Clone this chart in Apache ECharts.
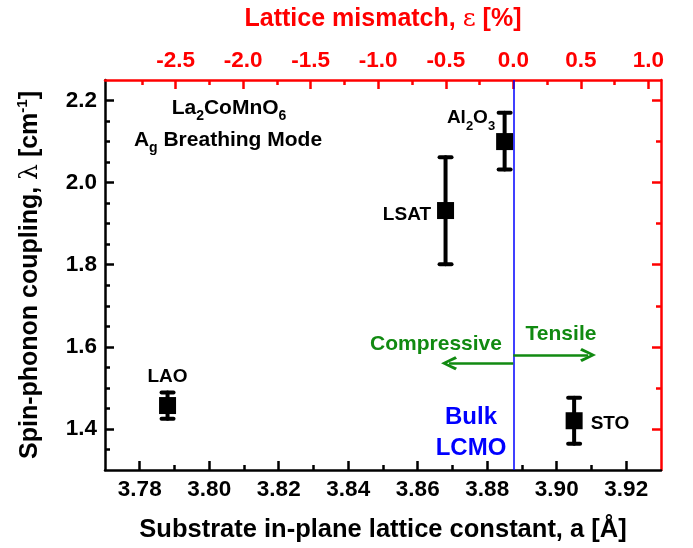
<!DOCTYPE html>
<html><head><meta charset="utf-8">
<script src="https://cdn.jsdelivr.net/npm/echarts@6/dist/echarts.min.js"></script>
<style>html,body{margin:0;padding:0;background:#fff}#c{width:693px;height:548px}</style>
</head><body><div id="c"></div>
<script>
// ---- data ----
const substrates = ['LAO', 'LSAT', 'Al2O3', 'STO'];
const latticeA   = [3.788, 3.868, 3.885, 3.905];
const lambdaVal  = [1.457, 1.932, 2.100, 1.420];
const lambdaLow  = [1.425, 1.801, 2.032, 1.364];
const lambdaHigh = [1.489, 2.062, 2.170, 1.476];
const A_BULK = 3.8875;            // bulk LCMO lattice constant
const X_RANGE = [3.77, 3.93];
const Y_RANGE = [1.3, 2.25];
const X_MAJOR = [3.78, 3.80, 3.82, 3.84, 3.86, 3.88, 3.90, 3.92];
const X_MINOR = [3.79, 3.81, 3.83, 3.85, 3.87, 3.89, 3.91];
const E_MAJOR = [-2.5, -2.0, -1.5, -1.0, -0.5, 0.0, 0.5, 1.0];
const E_MINOR = [-2.75, -2.25, -1.75, -1.25, -0.75, -0.25, 0.25, 0.75];
const Y_MAJOR = [1.4, 1.6, 1.8, 2.0, 2.2];
const Y_MINOR_L = [1.35, 1.45, 1.5, 1.55, 1.65, 1.7, 1.75, 1.85, 1.9, 1.95, 2.05, 2.1, 2.15];
const Y_MINOR_R = [1.5, 1.7, 1.9, 2.1];
const ARROW_COMP = [3.869, 1.560];   // compressive arrow end
const ARROW_TENS = [3.909, 1.580];   // tensile arrow end

// ---- derived ----
const E_RANGE = X_RANGE.map(a => (a / A_BULK - 1) * 100);

const FONT = '"Liberation Sans", Arial, sans-serif';
const RED = '#ff0000', GREEN = '#118a11', BLUE = '#0000ff';
const ARROW_PATH = 'path://M7,0 L14,12 L11.5,13.5 L7,5 L2.5,13.5 L0,12 Z';

const labelCfg = [
  { position: 'top', distance: 11, offset: [0, 0] },
  { position: 'left', distance: 6, offset: [0, 4] },
  { position: 'left', distance: 1, offset: [0, -24], lineHeight: 30 },
  { position: 'right', distance: 8, offset: [0, 3] }
];

function axisBase(color) {
  return {
    axisLine: { show: true, onZero: false, lineStyle: { color: color, width: 2.5 } },
    splitLine: { show: false }
  };
}

const chart = echarts.init(document.getElementById('c'), null, { renderer: 'canvas' });

const greenLine = { color: GREEN, width: 2.5, type: 'solid' };
const blueLine = { color: BLUE, width: 1.5, type: 'solid' };

const option = {
  animation: false,
  backgroundColor: '#fff',
  grid: { left: 105, right: 32, top: 80, bottom: 75, containLabel: false },
  xAxis: [
    Object.assign(axisBase('#000'), {
      type: 'value', position: 'bottom', min: X_RANGE[0], max: X_RANGE[1],
      axisTick: { show: true, inside: true, length: 9, customValues: X_MAJOR, lineStyle: { color: '#000', width: 2.5 } },
      axisLabel: { show: true, customValues: X_MAJOR, formatter: v => v.toFixed(2), color: '#000',
        fontSize: 22.5, fontWeight: 'bold', fontFamily: FONT, margin: 8 },
      name: 'Substrate in-plane lattice constant, a [Å]', nameLocation: 'middle', nameGap: 47,
      nameTextStyle: { fontSize: 25.5, fontWeight: 'bold', fontFamily: FONT, color: '#000' }
    }),
    {
      type: 'value', position: 'bottom', min: X_RANGE[0], max: X_RANGE[1],
      axisLine: { show: false, onZero: false }, splitLine: { show: false },
      axisTick: { show: true, inside: true, length: 5, customValues: X_MINOR, lineStyle: { color: '#000', width: 2.5 } },
      axisLabel: { show: false }
    },
    Object.assign(axisBase(RED), {
      type: 'value', position: 'top', min: E_RANGE[0], max: E_RANGE[1],
      axisTick: { show: true, inside: true, length: 9, customValues: E_MAJOR, lineStyle: { color: RED, width: 2.5 } },
      axisLabel: { show: true, customValues: E_MAJOR, formatter: v => v.toFixed(1), color: RED,
        fontSize: 22.5, fontWeight: 'bold', fontFamily: FONT, margin: 8 },
      name: 'Lattice mismatch, {g|ε} [%]', nameLocation: 'middle', nameGap: 48,
      nameTextStyle: { fontSize: 25, fontWeight: 'bold', fontFamily: FONT, color: RED,
        rich: { g: { fontSize: 25, fontWeight: 'normal', fontFamily: '"DejaVu Serif", serif', color: RED } } }
    }),
    {
      type: 'value', position: 'top', min: E_RANGE[0], max: E_RANGE[1],
      axisLine: { show: false, onZero: false }, splitLine: { show: false },
      axisTick: { show: true, inside: true, length: 5, customValues: E_MINOR, lineStyle: { color: RED, width: 2.5 } },
      axisLabel: { show: false }
    }
  ],
  yAxis: [
    Object.assign(axisBase('#000'), {
      type: 'value', position: 'left', min: Y_RANGE[0], max: Y_RANGE[1],
      axisTick: { show: true, inside: true, length: 9, customValues: Y_MAJOR, lineStyle: { color: '#000', width: 2.5 } },
      axisLabel: { show: true, customValues: Y_MAJOR, formatter: v => v.toFixed(1), color: '#000',
        fontSize: 22.5, fontWeight: 'bold', fontFamily: FONT, margin: 8 },
      name: 'Spin-phonon coupling, {g|λ} [cm{p|-1}]', nameLocation: 'middle', nameGap: 60, nameRotate: 90,
      nameTextStyle: { fontSize: 25, fontWeight: 'bold', fontFamily: FONT, color: '#000', lineHeight: 30,
        rich: {
          g: { fontSize: 25, fontWeight: 'normal', fontFamily: '"DejaVu Serif", serif', color: '#000', lineHeight: 30 },
          p: { fontSize: 15, fontWeight: 'bold', fontFamily: FONT, color: '#000', lineHeight: 12, verticalAlign: 'top' }
        } }
    }),
    {
      type: 'value', position: 'left', min: Y_RANGE[0], max: Y_RANGE[1],
      axisLine: { show: false, onZero: false }, splitLine: { show: false },
      axisTick: { show: true, inside: true, length: 5, customValues: Y_MINOR_L, lineStyle: { color: '#000', width: 2.5 } },
      axisLabel: { show: false }
    },
    Object.assign(axisBase(RED), {
      type: 'value', position: 'right', min: Y_RANGE[0], max: Y_RANGE[1],
      axisTick: { show: true, inside: true, length: 9, customValues: Y_MAJOR, lineStyle: { color: RED, width: 2.5 } },
      axisLabel: { show: false }
    }),
    {
      type: 'value', position: 'right', min: Y_RANGE[0], max: Y_RANGE[1],
      axisLine: { show: false, onZero: false }, splitLine: { show: false },
      axisTick: { show: true, inside: true, length: 5, customValues: Y_MINOR_R, lineStyle: { color: RED, width: 2.5 } },
      axisLabel: { show: false }
    }
  ],
  series: [
    {
      type: 'custom', xAxisIndex: 0, yAxisIndex: 0, z: 3,
      encode: { x: 0, y: [1, 2] },
      data: latticeA.map((a, i) => [a, lambdaLow[i], lambdaHigh[i]]),
      renderItem: function (params, api) {
        const x = api.value(0);
        const pLo = api.coord([x, api.value(1)]);
        const pHi = api.coord([x, api.value(2)]);
        const w = 6;
        const st = { stroke: '#000', lineWidth: 4, lineCap: 'round' };
        return { type: 'group', children: [
          { type: 'line', shape: { x1: pLo[0], y1: pLo[1], x2: pHi[0], y2: pHi[1] }, style: st },
          { type: 'line', shape: { x1: pLo[0] - w, y1: pLo[1], x2: pLo[0] + w, y2: pLo[1] }, style: st },
          { type: 'line', shape: { x1: pHi[0] - w, y1: pHi[1], x2: pHi[0] + w, y2: pHi[1] }, style: st }
        ] };
      }
    },
    {
      type: 'scatter', xAxisIndex: 0, yAxisIndex: 0, z: 4,
      symbol: 'rect', symbolSize: 17,
      itemStyle: { color: '#000', opacity: 1 },
      label: { show: true, color: '#000', fontSize: 19, fontWeight: 'bold', fontFamily: FONT,
        rich: { s: { fontSize: 13, fontWeight: 'bold', fontFamily: FONT, color: '#000', lineHeight: 12, verticalAlign: 'bottom' } } },
      data: latticeA.map((a, i) => {
        const c = labelCfg[i];
        const lab = { show: true, position: c.position, distance: c.distance, offset: c.offset,
          formatter: substrates[i].replace(/(\d)/g, '{s|$1}') };
        if (c.lineHeight) lab.lineHeight = c.lineHeight;
        return { value: [a, lambdaVal[i]], label: lab };
      }),
      markLine: {
        silent: true, animation: false, symbol: ['none', 'none'], label: { show: false },
        emphasis: { disabled: true }, precision: 4,
        data: [
          [
            { coord: [A_BULK, Y_RANGE[0]], symbol: 'none', lineStyle: blueLine },
            { coord: [A_BULK, Y_RANGE[1]], symbol: 'none', lineStyle: blueLine }
          ],
          [
            { coord: [A_BULK, ARROW_COMP[1]], symbol: 'none', lineStyle: greenLine },
            { coord: ARROW_COMP, symbol: ARROW_PATH, symbolSize: [14, 16], itemStyle: { color: GREEN }, lineStyle: greenLine }
          ],
          [
            { coord: [A_BULK, ARROW_TENS[1]], symbol: 'none', lineStyle: greenLine },
            { coord: ARROW_TENS, symbol: ARROW_PATH, symbolSize: [14, 16], itemStyle: { color: GREEN }, lineStyle: greenLine }
          ]
        ]
      }
    }
  ],
  graphic: [
    { type: 'text', x: 229, y: 108, style: { text: '{m|La}{s|2}{m|CoMnO}{s|6}', align: 'center', verticalAlign: 'middle',
        rich: { m: { fontSize: 21, fontWeight: 'bold', fontFamily: FONT, fill: '#000', lineHeight: 30 },
                s: { fontSize: 14, fontWeight: 'bold', fontFamily: FONT, fill: '#000', lineHeight: 12, verticalAlign: 'bottom' } } } },
    { type: 'text', x: 228, y: 140, style: { text: '{m|A}{s|g}{m| Breathing Mode}', align: 'center', verticalAlign: 'middle',
        rich: { m: { fontSize: 21, fontWeight: 'bold', fontFamily: FONT, fill: '#000', lineHeight: 30 },
                s: { fontSize: 14, fontWeight: 'bold', fontFamily: FONT, fill: '#000', lineHeight: 12, verticalAlign: 'bottom' } } } },
    { type: 'text', x: 471, y: 417, style: { text: 'Bulk', align: 'center', verticalAlign: 'middle',
        font: 'bold 24px ' + FONT, fill: BLUE } },
    { type: 'text', x: 471, y: 448, style: { text: 'LCMO', align: 'center', verticalAlign: 'middle',
        font: 'bold 24px ' + FONT, fill: BLUE } },
    { type: 'text', x: 436, y: 344, style: { text: 'Compressive', align: 'center', verticalAlign: 'middle',
        font: 'bold 21px ' + FONT, fill: GREEN } },
    { type: 'text', x: 561, y: 334, style: { text: 'Tensile', align: 'center', verticalAlign: 'middle',
        font: 'bold 21px ' + FONT, fill: GREEN } }
  ]
};
chart.setOption(option);
</script>
</body></html>
